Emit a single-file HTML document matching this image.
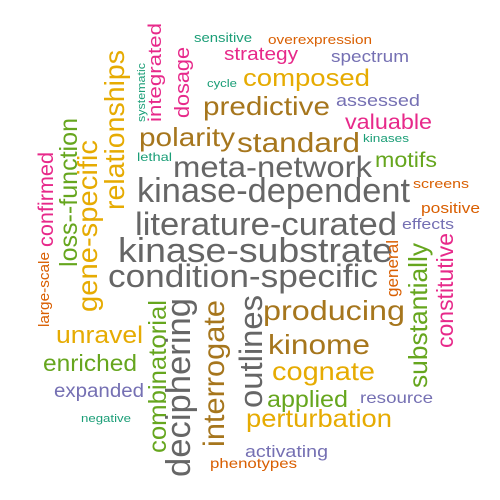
<!DOCTYPE html>
<html><head><meta charset="utf-8"><style>
html,body{margin:0;padding:0;background:#fff;width:500px;height:500px;overflow:hidden}
svg text{font-family:"Liberation Sans",Arial,sans-serif}
</style></head><body>
<svg id="cloud" width="500" height="500" viewBox="0 0 500 500" xmlns="http://www.w3.org/2000/svg"></svg>
<script>
// word, size, colour, vertical?, start, end, baseline
const words = ["sensitive","overexpression","strategy","spectrum","cycle","composed","predictive","assessed","valuable","polarity","standard","kinases","lethal","meta-network","motifs","screens","kinase-dependent","positive","effects","literature-curated","kinase-substrate","condition-specific","producing","unravel","kinome","enriched","cognate","expanded","applied","resource","negative","perturbation","activating","phenotypes",
"relationships","systematic","integrated","dosage","confirmed","loss--function","gene-specific","large-scale","combinatorial","deciphering","interrogate","outlines","general","substantially","constitutive"];
const sizes = [13,13,18,17,11,24,26,17,21,26,28,11,12,30,21,13,34,15,15,32,34,32,28,24,28,23,26,19,23,16,11,25,17,14,
28,11,18,20,21,25,28,15,25,34,30,32,17,26,23];
const colors = ["#1B9E77","#D95F02","#E7298A","#7570B3","#1B9E77","#E6AB02","#A6761D","#7570B3","#E7298A","#A6761D","#A6761D","#1B9E77","#1B9E77","#666666","#66A61E","#D95F02","#666666","#D95F02","#7570B3","#666666","#666666","#666666","#A6761D","#E6AB02","#A6761D","#66A61E","#E6AB02","#7570B3","#66A61E","#7570B3","#1B9E77","#E6AB02","#7570B3","#D95F02",
"#E6AB02","#1B9E77","#E7298A","#E7298A","#E7298A","#66A61E","#E6AB02","#D95F02","#66A61E","#666666","#A6761D","#666666","#D95F02","#66A61E","#E7298A"];
const vertical = [0,0,0,0,0,0,0,0,0,0,0,0,0,0,0,0,0,0,0,0,0,0,0,0,0,0,0,0,0,0,0,0,0,0,
1,1,1,1,1,1,1,1,1,1,1,1,1,1,1];
const starts = [194,268,224,331,207,243,203,336,345,139,237,363,137,173,375,413,137,421,402,135,118,108,263,56,268,43,272,54,267,360,81,246,245,210,
50,63,23,47,152,118,140,252,300,298,300,295,240,243,233];
const ends = [252,372,298,409,237,370,330,420,432,235,360,409,172,372,437,469,410,480,454,397,393,378,405,143,370,137,375,144,348,433,131,392,328,297,
210,122,122,118,247,267,312,327,453,477,447,408,297,388,348];
const baselines = [42,44,60,62,87,86,115,106,129,146,152,142,161,177,167,188,202,213,229,235,262,287,320,343,354,371,380,397,407,403,422,427,457,468,
124,145,161,189,53,77,97,49,166,190,224,262,398,427,453];

const svg = document.getElementById('cloud');
const NS = 'http://www.w3.org/2000/svg';
for (let i = 0; i < words.length; i++) {
  const t = document.createElementNS(NS, 'text');
  
  
  t.textContent = words[i];
  t.setAttribute('font-size', sizes[i]);
  t.setAttribute('fill', colors[i]);
  t.setAttribute('text-anchor', 'middle');
  t.setAttribute('textLength', ends[i] - starts[i]);
  t.setAttribute('lengthAdjust', 'spacingAndGlyphs');
  const mid = (starts[i] + ends[i]) / 2;
  if (vertical[i]) {
    t.setAttribute('x', 0);
    t.setAttribute('y', 0);
    t.setAttribute('transform', 'translate(' + baselines[i] + ',' + mid + ') rotate(-90)');
  } else {
    t.setAttribute('x', mid);
    t.setAttribute('y', baselines[i]);
  }
  svg.appendChild(t);
}
</script>
</body></html>
